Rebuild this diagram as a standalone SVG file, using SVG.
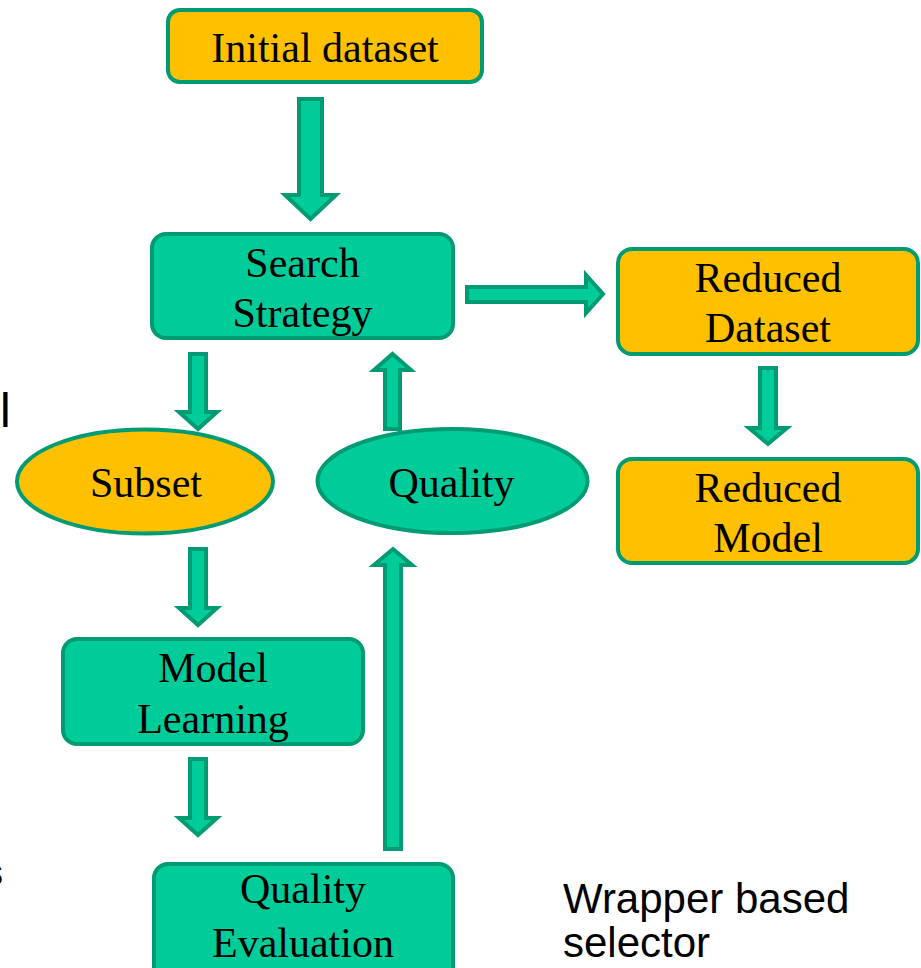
<svg xmlns="http://www.w3.org/2000/svg" width="921" height="968" viewBox="0 0 921 968">
<style>
.box{stroke:#009A73;stroke-width:4}
.teal{fill:#00CC99}
.orange{fill:#FFC000}
.arrow{fill:#00CC99;stroke:#009A73;stroke-width:4;stroke-linejoin:miter}
.t{font-family:"Liberation Serif","Times New Roman",serif;font-size:42px;fill:#000;text-anchor:middle}
.s{font-family:"Liberation Sans",Arial,sans-serif;font-size:42px;fill:#000}
</style>
<rect width="921" height="968" fill="#fff"/>
<g id="connectors">
<polygon class="arrow" points="299,99 322,99 322,195 336,195 310.5,219 285,195 299,195"/>
<polygon class="arrow" points="190,354 206,354 206,412 217,412 198,429 179,412 190,412"/>
<polygon class="arrow" points="190,549 206,549 206,608 217,608 198,625 179,608 190,608"/>
<polygon class="arrow" points="190,759 206,759 206,818 217,818 198,835 179,818 190,818"/>
<polygon class="arrow" points="385,429 400,429 400,370 411,370 392.5,354 374,370 385,370"/>
<polygon class="arrow" points="385,849 401,849 401,565 412,565 393,549 374,565 385,565"/>
<polygon class="arrow" points="467,287 586,287 586,275 603,294 586,313 586,302 467,302"/>
<polygon class="arrow" points="760,368 776,368 776,428 787,428 768,444 749,428 760,428"/>
</g>
<g id="initial">
<rect class="box orange" x="168" y="10" width="314" height="72" rx="12"/>
<text class="t" x="325" y="62">Initial dataset</text>
</g>
<g id="search">
<rect class="box teal" x="152" y="234" width="301" height="104" rx="14"/>
<text class="t" x="302.5" y="277">Search</text>
<text class="t" x="302.5" y="327">Strategy</text>
</g>
<g id="reduced-dataset">
<rect class="box orange" x="618" y="249" width="300" height="105" rx="14"/>
<text class="t" x="768" y="292">Reduced</text>
<text class="t" x="768" y="342">Dataset</text>
</g>
<g id="reduced-model">
<rect class="box orange" x="618" y="459" width="300" height="104" rx="14"/>
<text class="t" x="768" y="502">Reduced</text>
<text class="t" x="768" y="552">Model</text>
</g>
<g id="subset">
<ellipse class="box orange" cx="145" cy="481.5" rx="128" ry="52"/>
<text class="t" x="146" y="497">Subset</text>
</g>
<g id="quality">
<ellipse class="box teal" cx="452.5" cy="481" rx="135" ry="52"/>
<text class="t" x="451.5" y="497">Quality</text>
</g>
<g id="model-learning">
<rect class="box teal" x="63" y="639" width="300" height="105" rx="14"/>
<text class="t" x="213" y="682">Model</text>
<text class="t" x="213" y="733">Learning</text>
</g>
<g id="quality-evaluation">
<rect class="box teal" x="154" y="864" width="299" height="130" rx="14"/>
<text class="t" x="303" y="903">Quality</text>
<text class="t" x="303" y="957">Evaluation</text>
</g>
<g id="caption">
<text class="s" x="563" y="913">Wrapper based</text>
<text class="s" x="563" y="957">selector</text>
<text class="s" x="0" y="427" style="font-size:48px">l</text>
<text class="s" x="-15" y="885" style="font-size:36px">s</text>
</g>
</svg>
